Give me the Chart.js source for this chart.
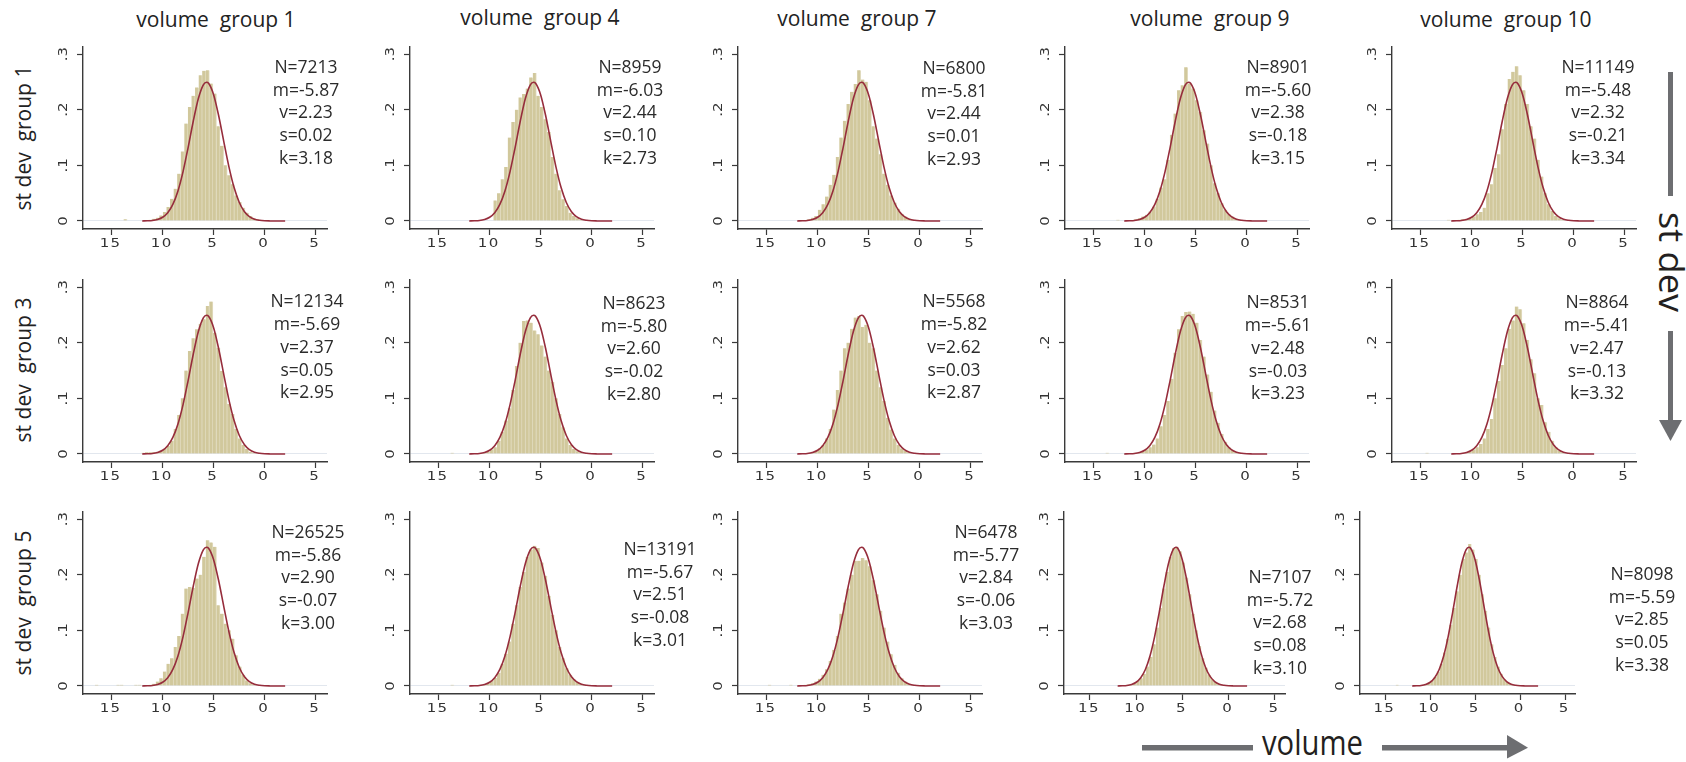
<!DOCTYPE html>
<html>
<head>
<meta charset="utf-8">
<script src="https://cdn.jsdelivr.net/npm/chart.js@4.4.1/dist/chart.umd.min.js"></script>
<style>
  html, body { margin: 0; padding: 0; background: #fff; }
  #page { position: relative; width: 1686px; height: 762px; overflow: hidden; font-family: "Open Sans", sans-serif; }
  #page canvas { position: absolute; }
  #deco { position: absolute; left: 0; top: 0; pointer-events: none; }
  #deco text { white-space: pre; }
</style>
</head>
<body>
<div id="page">
  <svg id="deco" width="1686" height="762"></svg>
</div>
<script>
const volumeGroups = ['1', '4', '7', '9', '10'];
const stdevGroups = ['1', '3', '5'];

const xTicks = [-15, -10, -5, 0, 5];
const yTicks = [0, 0.1, 0.2, 0.3];
const yTickLabels = ['0', '.1', '.2', '.3'];

// reference normal curve, same in every panel
const curveX = [-12, -11.5, -11, -10.5, -10, -9.5, -9, -8.5, -8, -7.5, -7, -6.5, -6, -5.7, -5.5, -5, -4.5, -4, -3.5, -3, -2.5, -2, -1.5, -1, -0.5, 0, 0.5, 1, 1.5, 2];
const curveY = [0.0001, 0.0004, 0.001, 0.0028, 0.0067, 0.0149, 0.0297, 0.0539, 0.0887, 0.1324, 0.1792, 0.2200, 0.2450, 0.2493, 0.2474, 0.2265, 0.1882, 0.1418, 0.0969, 0.0600, 0.0337, 0.0172, 0.0080, 0.0033, 0.0013, 0.0004, 0.0001, 0.00004, 0.00001, 0];

// histogram bins: width 0.35, histStart is the centre of the first bin
const binWidth = 0.35;
const histStart = [-13.65, -9.45, -10.85, -12.6, -12.25,
                   -11.9, -13.65, -10.85, -13.65, -14.35,
                   -16.45, -13.65, -14.7, -10.85, -13.65];

const hist_s1_v1 = [0.003, 0, 0, 0, 0, 0, 0, 0.002, 0.004, 0.006, 0.010, 0.016, 0.025, 0.040, 0.058, 0.085, 0.125, 0.175, 0.205, 0.225, 0.240, 0.262, 0.270, 0.271, 0.247, 0.229, 0.170, 0.135, 0.100, 0.082, 0.066, 0.046, 0.034, 0.024, 0.015, 0.009, 0.005, 0.003, 0.001];
const hist_s1_v4 = [0.037, 0.05, 0.075, 0.097, 0.15, 0.178, 0.2, 0.222, 0.228, 0.238, 0.258, 0.266, 0.225, 0.205, 0.183, 0.16, 0.115, 0.085, 0.055, 0.039, 0.027, 0.015, 0.009, 0.005, 0.002];
const hist_s1_v7 = [0.003, 0.006, 0.009, 0.02, 0.03, 0.044, 0.065, 0.083, 0.115, 0.15, 0.18, 0.21, 0.232, 0.246, 0.271, 0.254, 0.25, 0.217, 0.17, 0.148, 0.12, 0.085, 0.065, 0.046, 0.033, 0.022, 0.013, 0.008, 0.004, 0.002];
const hist_s1_v9 = [0.002, 0, 0, 0, 0, 0.003, 0.005, 0.008, 0.011, 0.017, 0.026, 0.04, 0.06, 0.075, 0.11, 0.155, 0.193, 0.235, 0.244, 0.276, 0.247, 0.238, 0.217, 0.196, 0.163, 0.139, 0.1, 0.068, 0.05, 0.032, 0.02, 0.012, 0.008, 0.004, 0.002];
const hist_s1_v10 = [0.002, 0, 0.001, 0.002, 0.003, 0.004, 0.005, 0.008, 0.012, 0.016, 0.024, 0.05, 0.066, 0.095, 0.12, 0.165, 0.21, 0.255, 0.268, 0.278, 0.262, 0.235, 0.21, 0.17, 0.148, 0.11, 0.08, 0.05, 0.03, 0.018, 0.009, 0.005, 0.002];

const hist_s3_v1 = [0.002, 0.003, 0.003, 0.003, 0.004, 0.006, 0.009, 0.015, 0.024, 0.045, 0.07, 0.10, 0.15, 0.185, 0.208, 0.224, 0.234, 0.242, 0.266, 0.274, 0.218, 0.191, 0.149, 0.12, 0.09, 0.072, 0.045, 0.028, 0.016, 0.009, 0.004, 0.002];
const hist_s3_v4 = [0.002, 0, 0, 0, 0, 0, 0, 0, 0, 0.002, 0.004, 0.008, 0.012, 0.024, 0.04, 0.06, 0.082, 0.115, 0.158, 0.20, 0.239, 0.24, 0.236, 0.222, 0.215, 0.195, 0.175, 0.15, 0.13, 0.10, 0.072, 0.048, 0.028, 0.016, 0.009, 0.005, 0.003, 0.001];
const hist_s3_v7 = [0.002, 0.004, 0.006, 0.01, 0.016, 0.028, 0.045, 0.08, 0.115, 0.15, 0.19, 0.20, 0.225, 0.245, 0.248, 0.228, 0.232, 0.2, 0.19, 0.15, 0.12, 0.095, 0.065, 0.044, 0.028, 0.016, 0.01, 0.006, 0.003, 0.001];
const hist_s3_v9 = [0.002, 0, 0, 0, 0, 0, 0, 0, 0.002, 0.003, 0.005, 0.008, 0.012, 0.017, 0.028, 0.05, 0.07, 0.095, 0.135, 0.182, 0.224, 0.248, 0.255, 0.256, 0.252, 0.236, 0.205, 0.175, 0.143, 0.112, 0.078, 0.056, 0.036, 0.022, 0.012, 0.007, 0.004, 0.002];
const hist_s3_v10 = [0.002, 0, 0, 0, 0, 0, 0, 0, 0, 0, 0.002, 0.003, 0.005, 0.008, 0.012, 0.018, 0.028, 0.045, 0.063, 0.10, 0.131, 0.16, 0.19, 0.225, 0.24, 0.265, 0.26, 0.235, 0.205, 0.17, 0.145, 0.10, 0.088, 0.057, 0.04, 0.024, 0.012, 0.006, 0.003, 0.001];

const hist_s5_v1 = [0.002, 0, 0, 0, 0, 0, 0.002, 0.002, 0, 0, 0.001, 0.002, 0.002, 0, 0, 0.002, 0.004, 0.008, 0.014, 0.026, 0.04, 0.05, 0.07, 0.09, 0.13, 0.175, 0.178, 0.176, 0.193, 0.20, 0.232, 0.262, 0.258, 0.25, 0.145, 0.13, 0.112, 0.10, 0.085, 0.055, 0.035, 0.02, 0.01, 0.005, 0.003, 0.001];
const hist_s5_v4 = [0.002, 0, 0, 0, 0, 0, 0, 0, 0.002, 0.003, 0.005, 0.009, 0.015, 0.024, 0.04, 0.058, 0.08, 0.112, 0.145, 0.178, 0.205, 0.232, 0.245, 0.252, 0.248, 0.222, 0.198, 0.162, 0.128, 0.1, 0.07, 0.05, 0.032, 0.02, 0.012, 0.007, 0.004, 0.002];
const hist_s5_v7 = [0.002, 0, 0, 0, 0, 0, 0.002, 0, 0, 0.001, 0.002, 0.003, 0.005, 0.008, 0.013, 0.02, 0.03, 0.045, 0.065, 0.09, 0.13, 0.15, 0.175, 0.2, 0.225, 0.225, 0.23, 0.226, 0.215, 0.19, 0.165, 0.135, 0.105, 0.08, 0.057, 0.038, 0.024, 0.014, 0.008, 0.004, 0.002];
const hist_s5_v9 = [0.002, 0.003, 0.005, 0.009, 0.014, 0.022, 0.035, 0.052, 0.075, 0.105, 0.14, 0.175, 0.205, 0.232, 0.248, 0.25, 0.242, 0.222, 0.195, 0.165, 0.13, 0.1, 0.072, 0.05, 0.033, 0.02, 0.012, 0.007, 0.004, 0.002];
const hist_s5_v10 = [0.002, 0, 0, 0, 0, 0, 0, 0, 0.002, 0.004, 0.006, 0.01, 0.016, 0.026, 0.04, 0.06, 0.085, 0.11, 0.14, 0.17, 0.2, 0.228, 0.24, 0.255, 0.245, 0.228, 0.2, 0.165, 0.135, 0.105, 0.075, 0.052, 0.035, 0.022, 0.012, 0.007, 0.004, 0.002];

const hists = [hist_s1_v1, hist_s1_v4, hist_s1_v7, hist_s1_v9, hist_s1_v10,
               hist_s3_v1, hist_s3_v4, hist_s3_v7, hist_s3_v9, hist_s3_v10,
               hist_s5_v1, hist_s5_v4, hist_s5_v7, hist_s5_v9, hist_s5_v10];

// summary statistics printed in each panel
const statN = ['7213', '8959', '6800', '8901', '11149', '12134', '8623', '5568', '8531', '8864', '26525', '13191', '6478', '7107', '8098'];
const statM = ['-5.87', '-6.03', '-5.81', '-5.60', '-5.48', '-5.69', '-5.80', '-5.82', '-5.61', '-5.41', '-5.86', '-5.67', '-5.77', '-5.72', '-5.59'];
const statV = ['2.23', '2.44', '2.44', '2.38', '2.32', '2.37', '2.60', '2.62', '2.48', '2.47', '2.90', '2.51', '2.84', '2.68', '2.85'];
const statS = ['0.02', '0.10', '0.01', '-0.18', '-0.21', '0.05', '-0.02', '0.03', '-0.03', '-0.13', '-0.07', '-0.08', '-0.06', '0.08', '0.05'];
const statK = ['3.18', '2.73', '2.93', '3.15', '3.34', '2.95', '2.80', '2.87', '3.23', '3.32', '3.00', '3.01', '3.03', '3.10', '3.38'];

// layout
const BAR = 'rgb(209,200,156)';
const BAR_EDGE = 'rgb(226,220,192)';
const CURVE = '#962d3c';
const AXIS = '#3a3a3a';
// plot frame of each panel: [left (y axis), top, width, height]
const panelGeom = [
    [83, 47, 244, 182], [410, 47, 244, 182], [738, 47, 244, 182], [1065, 47, 244, 182], [1392, 47, 244, 182],
    [83, 280, 244, 182], [410, 280, 244, 182], [738, 280, 244, 182], [1065, 280, 244, 182], [1392, 280, 244, 182],
    [83, 512, 244, 182], [410, 512, 244, 182], [738, 512, 244, 182], [1064, 512, 221, 182], [1360, 512, 215, 182]
];
const titleX = [216, 540, 857, 1210, 1506];
const titleY = [27, 25, 26, 26, 27];
const rowLabelY = [138, 370, 603];
// stats block: centre x offset from the y axis, centre of first line below plot top
const statPos = [[223, 21], [220, 21], [216, 22], [213, 21], [206, 21],
                 [224, 22.5], [224, 24], [216, 22.5], [213, 23.5], [205, 23.5],
                 [225, 21], [250, 38], [248, 21], [216, 66], [282, 63]];

function makeDeco(p) {
    const lines = ['N=' + statN[p], 'm=' + statM[p], 'v=' + statV[p], 's=' + statS[p], 'k=' + statK[p]];
    return {
        id: 'deco' + p,
        afterDraw(chart) {
            const { ctx, chartArea, scales } = chart;
            ctx.save();
            ctx.fillStyle = '#333';
            ctx.font = '12px "DejaVu Sans"';
            ctx.textAlign = 'center';
            ctx.textBaseline = 'alphabetic';
            // stretched tick labels, like the original
            xTicks.forEach(v => {
                ctx.save();
                ctx.translate(scales.x.getPixelForValue(v) - 1, chartArea.bottom + 18);
                ctx.scale(1.25, 1);
                ctx.letterSpacing = '1px';
                ctx.fillText(String(Math.abs(v)), 0, 0);
                ctx.restore();
            });
            yTicks.forEach((v, i) => {
                ctx.save();
                ctx.translate(chartArea.left - 16, scales.y.getPixelForValue(v));
                ctx.rotate(-Math.PI / 2);
                ctx.scale(1.25, 1);
                ctx.fillText(yTickLabels[i], 0, 0);
                ctx.restore();
            });
            ctx.fillStyle = '#2b2b2b';
            ctx.font = '17.5px "Open Sans"';
            ctx.textBaseline = 'middle';
            lines.forEach((t, i) => {
                ctx.fillText(t, chartArea.left + statPos[p][0], chartArea.top + statPos[p][1] + i * 22.7);
            });
            ctx.restore();
        }
    };
}

function createPanel(r, c) {
    const p = r * 5 + c;
    const [left, top, w, h] = panelGeom[p];
    const padRight = 120;
    const cw = 50 + w + padRight;
    const chgt = 10 + h + 30 + 10;
    const canvas = document.createElement('canvas');
    canvas.width = cw;
    canvas.height = chgt;
    canvas.style.left = (left - 50) + 'px';
    canvas.style.top = (top - 10) + 'px';
    canvas.style.width = cw + 'px';
    canvas.style.height = chgt + 'px';
    document.getElementById('page').appendChild(canvas);

    const bars = hists[p].map((v, i) => ({ x: histStart[p] + i * binWidth, y: v }));
    const curve = curveX.map((x, i) => ({ x: x, y: curveY[i] }));

    new Chart(canvas, {
        data: {
            datasets: [
                {
                    type: 'bar',
                    data: bars,
                    backgroundColor: BAR,
                    borderColor: BAR_EDGE,
                    borderWidth: { left: 0, right: 1, top: 0, bottom: 0 },
                    borderSkipped: false,
                    barPercentage: 1,
                    categoryPercentage: 1,
                    order: 2
                },
                {
                    type: 'line',
                    data: curve,
                    borderColor: CURVE,
                    borderWidth: 1.6,
                    pointRadius: 0,
                    fill: false,
                    cubicInterpolationMode: 'monotone',
                    order: 1
                }
            ]
        },
        options: {
            responsive: false,
            animation: false,
            events: [],
            layout: { padding: { left: 0, top: 10, right: padRight, bottom: 10 } },
            plugins: {
                legend: { display: false },
                tooltip: { enabled: false }
            },
            scales: {
                x: {
                    type: 'linear',
                    min: -17.8,
                    max: 6.1,
                    offset: false,
                    afterBuildTicks: s => { s.ticks = xTicks.map(v => ({ value: v })); },
                    afterFit: s => { s.height = 30; },
                    border: { color: AXIS, width: 1.4 },
                    grid: { offset: false, drawOnChartArea: false, drawTicks: true, tickLength: 6, tickColor: AXIS, tickWidth: 1.2 },
                    ticks: { display: false }
                },
                y: {
                    type: 'linear',
                    min: -0.0144,
                    max: 0.3126,
                    afterBuildTicks: s => { s.ticks = yTicks.map(v => ({ value: v })); },
                    afterFit: s => { s.width = 50; },
                    border: { color: AXIS, width: 1.4 },
                    grid: {
                        drawTicks: true,
                        tickLength: 6,
                        tickColor: AXIS,
                        tickWidth: 1.2,
                        color: ctx => (ctx.tick && ctx.tick.value === 0 ? '#e2e7ee' : 'rgba(0,0,0,0)')
                    },
                    ticks: { display: false }
                }
            }
        },
        plugins: [makeDeco(p)]
    });
}

for (let r = 0; r < 3; r++) {
    for (let c = 0; c < 5; c++) {
        createPanel(r, c);
    }
}

// titles, row labels and the two direction arrows
const svgNS = 'http://www.w3.org/2000/svg';
const svg = document.getElementById('deco');
function svgEl(tag, attrs, text) {
    const el = document.createElementNS(svgNS, tag);
    Object.keys(attrs).forEach(k => el.setAttribute(k, attrs[k]));
    if (text !== undefined) el.textContent = text;
    svg.appendChild(el);
    return el;
}

volumeGroups.forEach((g, c) => {
    svgEl('text', { x: titleX[c], y: titleY[c], 'text-anchor': 'middle', 'font-family': 'Open Sans', 'font-size': 21, fill: '#222' }, 'volume  group ' + g);
});
stdevGroups.forEach((g, r) => {
    svgEl('text', { transform: 'translate(31,' + rowLabelY[r] + ') rotate(-90)', 'text-anchor': 'middle', 'font-family': 'Open Sans', 'font-size': 21, fill: '#222' }, 'st dev  group ' + g);
});

const ARROW = '#6d6e71';
// right side: st dev, pointing down
svgEl('rect', { x: 1668, y: 72, width: 5, height: 124, fill: ARROW });
svgEl('text', { transform: 'translate(1659,262) rotate(90)', 'text-anchor': 'middle', 'font-family': 'Open Sans', 'font-size': 35, fill: '#231f20', textLength: 100, lengthAdjust: 'spacingAndGlyphs' }, 'st dev');
svgEl('rect', { x: 1668, y: 331, width: 5, height: 92, fill: ARROW });
svgEl('polygon', { points: '1659,420 1682,420 1670.5,441', fill: ARROW });
// bottom: volume, pointing right
svgEl('rect', { x: 1142, y: 745, width: 111, height: 5.5, fill: ARROW });
svgEl('text', { x: 1312.5, y: 755, 'text-anchor': 'middle', 'font-family': 'Open Sans', 'font-size': 35, fill: '#231f20', textLength: 101, lengthAdjust: 'spacingAndGlyphs' }, 'volume');
svgEl('rect', { x: 1382, y: 745, width: 128, height: 5.5, fill: ARROW });
svgEl('polygon', { points: '1507,735 1528,747.75 1507,758.5', fill: ARROW });
</script>
</body>
</html>
